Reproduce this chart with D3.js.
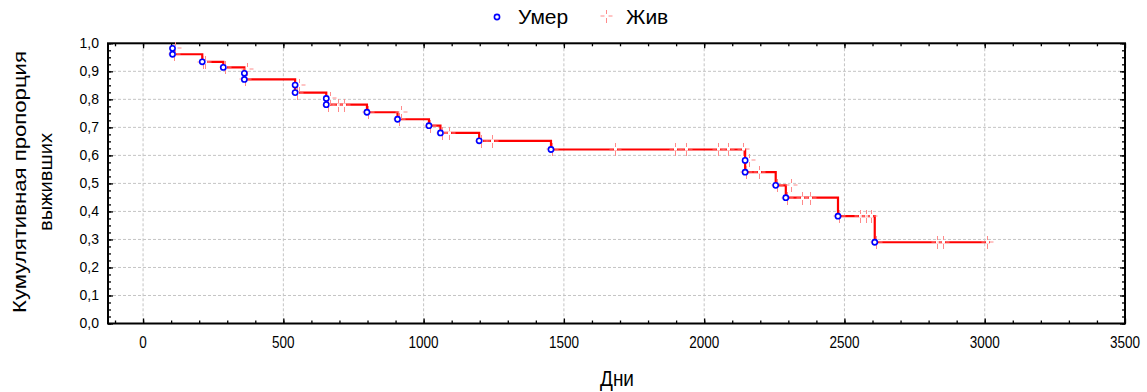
<!DOCTYPE html>
<html>
<head>
<meta charset="utf-8">
<script src="https://cdn.jsdelivr.net/npm/d3@7/dist/d3.min.js"></script>
<style>
  body { margin: 0; background: #fff; }
  svg { display: block; font-family: "Liberation Sans", Arial, sans-serif; }
</style>
</head>
<body>
<div id="chart"></div>
<script>
// Kaplan-Meier: cumulative proportion surviving (days)
// died: [day, survival]
var died = [
    [105, 0.982], [105, 0.961], [211, 0.934], [286, 0.914],
    [361, 0.893], [361, 0.871], [542, 0.851], [542, 0.824],
    [653, 0.803], [653, 0.781], [798, 0.754], [907, 0.729],
    [1019, 0.706], [1060, 0.680], [1198, 0.652], [1454, 0.621],
    [2146, 0.582], [2146, 0.540], [2255, 0.493], [2291, 0.449],
    [2477, 0.383], [2608, 0.290]
];
// alive (censored): [day, survival]
var alive = [
    [115, 0.982], [111, 0.961], [214, 0.934], [220, 0.934], [293, 0.914],
    [370, 0.907], [363, 0.871], [555, 0.851], [549, 0.824], [665, 0.803],
    [658, 0.781], [696, 0.781], [717, 0.781], [800, 0.754], [921, 0.754],
    [912, 0.729], [1024, 0.706], [1065, 0.680], [1090, 0.680], [1203, 0.652],
    [1242, 0.652], [1459, 0.621], [1682, 0.621], [1896, 0.621], [1937, 0.621],
    [2050, 0.621], [2086, 0.621], [2139, 0.621], [2160, 0.582], [2150, 0.540],
    [2195, 0.540], [2258, 0.493], [2311, 0.493], [2295, 0.449], [2347, 0.449],
    [2377, 0.449], [2480, 0.383], [2554, 0.383], [2578, 0.383], [2596, 0.383],
    [2612, 0.290], [2830, 0.290], [2852, 0.290], [3009, 0.290]
];
var lastDay = 3018;

var xTicks = [0, 500, 1000, 1500, 2000, 2500, 3000, 3500];
var yTicks = [0, 0.1, 0.2, 0.3, 0.4, 0.5, 0.6, 0.7, 0.8, 0.9, 1.0];
var legendLabels = ["Умер", "Жив"];
var xTitle = "Дни";
var yTitle = ["Кумулятивная пропорция", "выживших"];

var width = 1147, height = 392;
var plot = {left: 108, right: 1125, top: 43.3, bottom: 323.5};

var svg = d3.select("#chart").append("svg")
    .attr("width", width)
    .attr("height", height);

var x = d3.scaleLinear().domain([-125, 3500]).range([plot.left, plot.right]);
var y = d3.scaleLinear().domain([0, 1]).range([plot.bottom, plot.top]);

var fmt = function(d) { return d3.format(".1f")(d).replace(".", ","); };

// grid
var grid = svg.append("g").attr("class", "grid");
grid.selectAll("line.gx")
    .data(xTicks.filter(function(d) { return d < 3500; }))
    .enter().append("line")
    .attr("x1", function(d) { return x(d); })
    .attr("x2", function(d) { return x(d); })
    .attr("y1", plot.top).attr("y2", plot.bottom);
grid.selectAll("line.gy")
    .data(yTicks.filter(function(d) { return d > 0 && d < 1; }))
    .enter().append("line")
    .attr("x1", plot.left).attr("x2", plot.right)
    .attr("y1", function(d) { return y(d); })
    .attr("y2", function(d) { return y(d); });
grid.selectAll("line")
    .attr("stroke", "#c4c4c4")
    .attr("stroke-width", 1)
    .attr("stroke-dasharray", "3,2");

// axes (ticks point inward)
var xMinor = d3.range(-100, 3500, 100);
var yMinor = d3.range(0, 1.0001, 0.025);

function styleAxis(g) {
    g.select(".domain").remove();
    g.selectAll(".tick line").attr("stroke", "#000").attr("stroke-width", 1.3);
}

svg.append("g").attr("transform", "translate(0," + plot.bottom + ")")
    .call(d3.axisBottom(x).tickValues(xMinor).tickSize(-3).tickFormat(""))
    .call(styleAxis);
svg.append("g").attr("transform", "translate(0," + plot.top + ")")
    .call(d3.axisTop(x).tickValues(xMinor).tickSize(-3).tickFormat(""))
    .call(styleAxis);
svg.append("g").attr("transform", "translate(" + plot.left + ",0)")
    .call(d3.axisLeft(y).tickValues(yMinor).tickSize(-3).tickFormat(""))
    .call(styleAxis);
svg.append("g").attr("transform", "translate(" + plot.right + ",0)")
    .call(d3.axisRight(y).tickValues(yMinor).tickSize(-3).tickFormat(""))
    .call(styleAxis);

svg.append("g").attr("transform", "translate(0," + plot.bottom + ")")
    .call(d3.axisBottom(x).tickValues(xTicks).tickSize(-5).tickFormat(""))
    .call(styleAxis);
svg.append("g").attr("transform", "translate(0," + plot.top + ")")
    .call(d3.axisTop(x).tickValues(xTicks).tickSize(-5).tickFormat(""))
    .call(styleAxis);
svg.append("g").attr("transform", "translate(" + plot.right + ",0)")
    .call(d3.axisRight(y).tickValues(yTicks).tickSize(-5).tickFormat(""))
    .call(styleAxis);

var yAxis = svg.append("g").attr("transform", "translate(" + plot.left + ",0)")
    .call(d3.axisLeft(y).tickValues(yTicks).tickSize(-5).tickPadding(9).tickFormat(fmt))
    .call(styleAxis);
yAxis.selectAll("text")
    .attr("fill", "#000")
    .style("font-size", "14px");

// x tick labels: tall, narrow lettering
svg.append("g").selectAll("text")
    .data(xTicks)
    .enter().append("text")
    .attr("transform", function(d) { return "translate(" + x(d) + ",348) scale(1,1.27)"; })
    .attr("text-anchor", "middle")
    .style("font-size", "13.5px")
    .text(d3.format("d"));

// frame
svg.append("rect")
    .attr("x", plot.left).attr("y", plot.top)
    .attr("width", plot.right - plot.left)
    .attr("height", plot.bottom - plot.top)
    .attr("fill", "none")
    .attr("stroke", "#000")
    .attr("stroke-width", 2);

// step line
var pts = [[died[0][0], died[0][1]]];
for (var i = 1; i < died.length; i++) {
    pts.push([died[i][0], died[i - 1][1]]);
    pts.push([died[i][0], died[i][1]]);
}
pts.push([lastDay, died[died.length - 1][1]]);

var line = d3.line()
    .x(function(d) { return x(d[0]); })
    .y(function(d) { return y(d[1]); });

svg.append("path")
    .datum(pts)
    .attr("d", line)
    .attr("fill", "none")
    .attr("stroke", "#ff0000")
    .attr("stroke-width", 2.2);

// censored marker: "+" with open centre
function cross(g, cx, cy) {
    var arms = "M" + (cx - 6) + "," + cy + "H" + (cx - 2) +
        "M" + (cx + 2) + "," + cy + "H" + (cx + 6) +
        "M" + cx + "," + (cy - 6) + "V" + (cy - 2) +
        "M" + cx + "," + (cy + 2) + "V" + (cy + 7);
    g.append("rect")
        .attr("x", cx - 1.5).attr("y", cy - 1.5)
        .attr("width", 3).attr("height", 3)
        .attr("fill", "#fff");
    g.append("path")
        .attr("d", arms)
        .attr("stroke", "#ff8a8a")
        .attr("stroke-width", 1)
        .attr("fill", "none");
}

var cens = svg.append("g");
alive.forEach(function(d) {
    cross(cens, Math.round(x(d[0])) + 0.5, Math.round(y(d[1])));
});

svg.append("g").selectAll("circle")
    .data(died)
    .enter().append("circle")
    .attr("cx", function(d) { return x(d[0]); })
    .attr("cy", function(d) { return y(d[1]); })
    .attr("r", 2.6)
    .attr("fill", "#fff")
    .attr("stroke", "#0000ff")
    .attr("stroke-width", 1.6);

// legend
var leg = svg.append("g");
leg.append("circle")
    .attr("cx", 497).attr("cy", 17).attr("r", 2.6)
    .attr("fill", "#fff").attr("stroke", "#0000ff").attr("stroke-width", 1.6);
leg.append("text")
    .attr("x", 518).attr("y", 24)
    .style("font-size", "21px")
    .text(legendLabels[0]);
cross(leg, 606.5, 16);
leg.append("text")
    .attr("x", 626).attr("y", 24)
    .style("font-size", "21px")
    .text(legendLabels[1]);

// axis titles
svg.append("text")
    .attr("transform", "translate(617,386) scale(1,1.2)")
    .attr("text-anchor", "middle")
    .style("font-size", "19px")
    .text(xTitle);

svg.append("text")
    .attr("transform", "translate(26,182) rotate(-90)")
    .attr("text-anchor", "middle")
    .attr("textLength", 262)
    .attr("lengthAdjust", "spacingAndGlyphs")
    .style("font-size", "18px")
    .text(yTitle[0]);
svg.append("text")
    .attr("transform", "translate(52,182) rotate(-90)")
    .attr("text-anchor", "middle")
    .attr("textLength", 98)
    .attr("lengthAdjust", "spacingAndGlyphs")
    .style("font-size", "18px")
    .text(yTitle[1]);
</script>
</body>
</html>
